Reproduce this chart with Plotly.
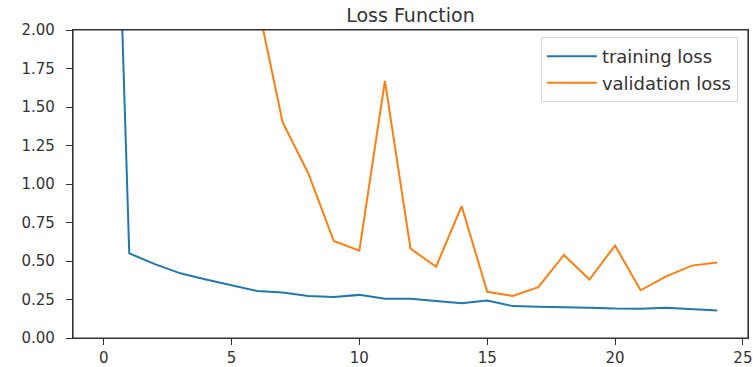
import plotly.graph_objects as go

epochs = list(range(25))
training_loss = [5.9, 0.55, 0.48, 0.42, 0.38, 0.34, 0.305, 0.295, 0.272, 0.267, 0.28, 0.255,
                 0.255, 0.24, 0.225, 0.243, 0.207, 0.203, 0.201, 0.196, 0.191, 0.19, 0.196, 0.186, 0.178]
validation_loss = [9.0, 6.0, 4.5, 3.6, 3.0, 2.6, 2.19, 1.40, 1.07, 0.63, 0.567, 1.67,
                   0.58, 0.463, 0.857, 0.30, 0.273, 0.33, 0.539, 0.38, 0.60, 0.31, 0.40, 0.47, 0.49]
x_ticks = [0, 5, 10, 15, 20, 25]
y_ticks = [0.0, 0.25, 0.5, 0.75, 1.0, 1.25, 1.5, 1.75, 2.0]

fig = go.Figure()
fig.add_trace(go.Scatter(x=epochs, y=training_loss, mode="lines", name="training loss",
                         line=dict(color="#1f77b4", width=2)))
fig.add_trace(go.Scatter(x=epochs, y=validation_loss, mode="lines", name="validation loss",
                         line=dict(color="#ff7f0e", width=2)))

axis_common = dict(showline=True, mirror=True, linecolor="#333", linewidth=1.2,
                   ticks="outside", ticklen=6, tickcolor="#333", tickwidth=1.2,
                   showgrid=False, zeroline=False, automargin=False,
                   tickfont=dict(size=15, color="#333"))

fig.update_layout(
    width=753, height=367,
    margin=dict(l=73, r=5, t=30, b=29),
    paper_bgcolor="white", plot_bgcolor="white",
    font=dict(family="DejaVu Sans", color="#333"),
    title=dict(text="Loss Function", x=0.5, xref="paper", y=1 - 15 / 367, yref="container",
               xanchor="center", yanchor="middle", font=dict(size=19, color="#333")),
    xaxis=dict(range=[-1.2, 25.2], tickvals=x_ticks, ticktext=[str(v) for v in x_ticks],
               ticklabelstandoff=0, **axis_common),
    yaxis=dict(range=[0, 2], tickvals=y_ticks, ticktext=[f"{v:.2f}" for v in y_ticks],
               ticklabelstandoff=8, **axis_common),
    legend=dict(x=0.985, y=0.977, xanchor="right", yanchor="top", bgcolor="white",
                bordercolor="#d5d5d5", borderwidth=1, itemwidth=50,
                font=dict(size=18, color="#333")),
    showlegend=True,
    shapes=[dict(type="rect", xref="paper", yref="paper", x0=0, y0=0, x1=1, y1=1,
                 line=dict(color="#333", width=1.2), fillcolor="rgba(0,0,0,0)", layer="above")],
)

fig.write_html("out.html", config={"displayModeBar": False},
               post_script="document.body.style.margin='0';document.body.style.overflow='hidden';")
